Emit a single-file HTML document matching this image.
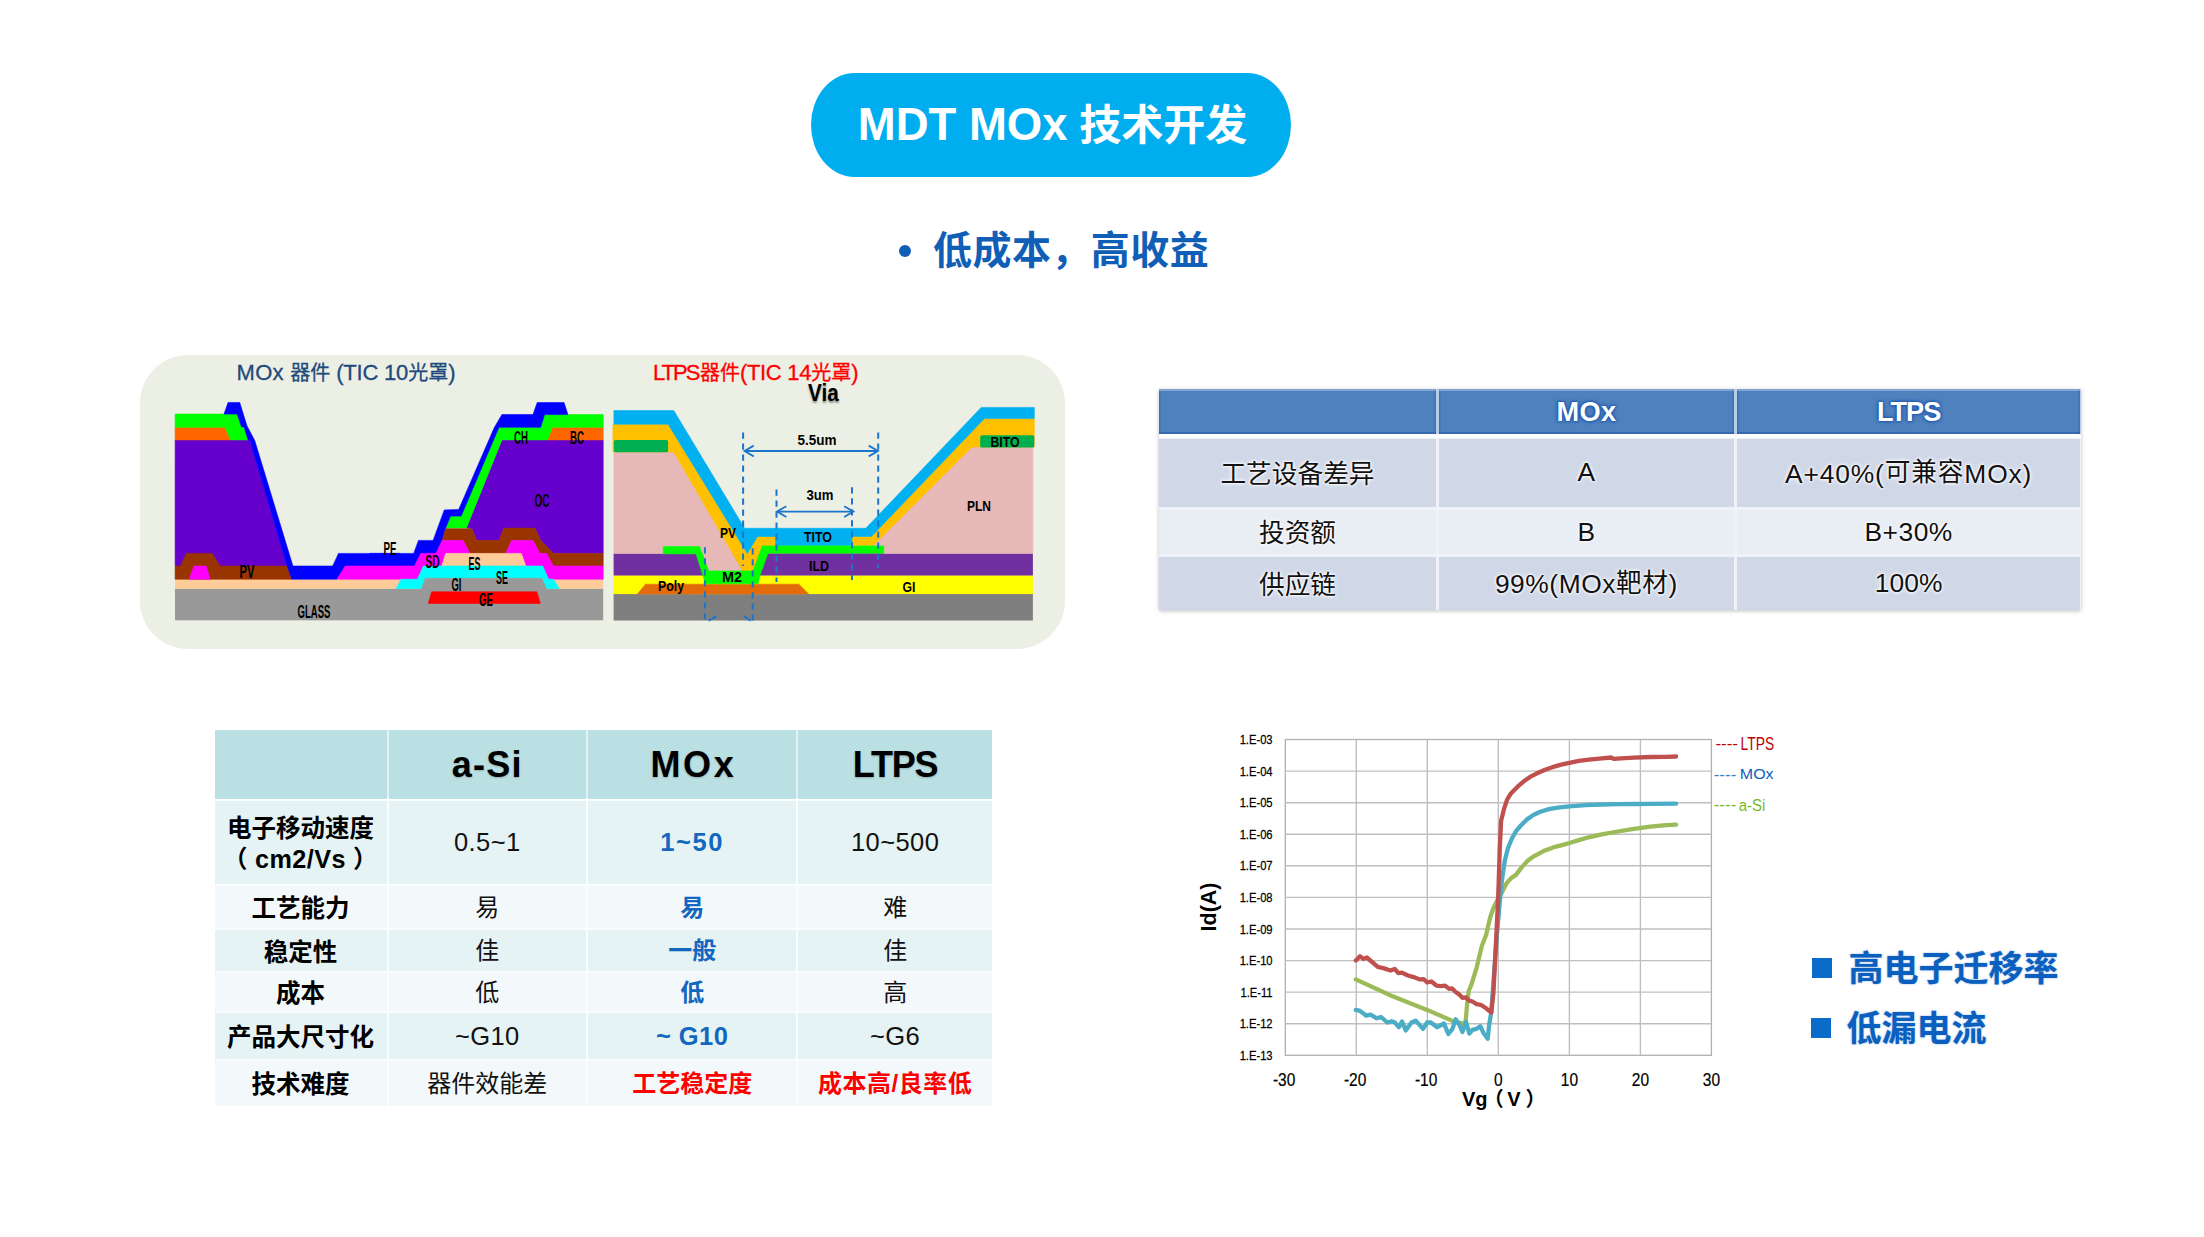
<!DOCTYPE html>
<html lang="zh-CN"><head><meta charset="utf-8"><title>MDT MOx 技术开发</title>
<style>
html,body{margin:0;padding:0;background:#fff;}
body{width:2204px;height:1237px;position:relative;overflow:hidden;font-family:"Liberation Sans","Noto Sans CJK SC",sans-serif;}
.abs{position:absolute;}
.pill{left:811px;top:72.8px;width:480px;height:103.8px;border-radius:43.5px / 51.9px;box-sizing:border-box;padding-left:3px;background:#00AEEF;color:#fff;font-weight:700;font-size:43px;line-height:104px;text-align:center;white-space:nowrap;}
.tl{font-size:45.5px;}
.tc{font-size:42px;}
.sub{letter-spacing:.45px;left:890px;top:222px;width:330px;height:58px;line-height:58px;font-size:39px;font-weight:700;color:#115EB6;white-space:nowrap;}
.panel{left:140px;top:355px;width:925px;height:294px;border-radius:48px;background:#ECEFE3;}
.dl{font-size:22px;white-space:nowrap;line-height:24px;-webkit-text-stroke:.3px currentColor;}
.dl i{font-style:normal;font-size:20px;}
.c{position:absolute;display:flex;align-items:center;justify-content:center;text-align:center;white-space:nowrap;box-sizing:border-box;}
.t1{font-size:26.4px;color:#111;text-shadow:0 0 2px #fff,0 0 3px #fff,0 0 4px #fff;}
.t1h{font-size:27.2px;font-weight:700;color:#fff;text-shadow:0 0 2px #1B55AE,0 0 3px #1B55AE,0 0 4px #1B55AE;}
.t2{font-size:24px;color:#111;}
.t2k{font-size:24.5px;font-weight:700;color:#000;line-height:30px;padding-top:4.4px;}
.t2h{font-size:36px;font-weight:700;color:#000;text-shadow:0 1px 2px rgba(0,0,0,.22);}
.la{font-size:25.5px;letter-spacing:.4px;}
.u2{position:relative;top:-1.5px;}
.up{position:relative;top:-1.2px;font-size:25.7px;}
.t1h{box-shadow:inset 0 2px 0 rgba(255,255,255,.3),inset 0 -2px 0 rgba(25,75,160,.45),inset 1.5px 0 0 rgba(25,75,160,.3),inset -1.5px 0 0 rgba(25,75,160,.3);}
.bl{color:#1367BE;font-weight:700;}
.rd{color:#FF0000;font-weight:700;}
.bul{font-size:35px;font-weight:700;color:#0A5FBF;white-space:nowrap;line-height:40px;text-shadow:0 0 2px rgba(10,95,191,.5);}
.sq{background:#0A6CC8;width:20px;height:20px;}
</style></head><body>
<div class="abs pill"><span class="tl">MDT MOx</span><span class="tc"> 技术开发</span></div>
<div class="abs sub"><span style="position:absolute;left:9px;top:23px;width:12px;height:12px;border-radius:6px;background:#115EB6"></span><span style="position:absolute;left:43px;top:0">低成本，高收益</span></div>
<div class="abs panel"></div>
<svg class="abs" style="left:0;top:0" width="2204" height="1237" viewBox="0 0 2204 1237">
<rect x="175" y="588.5" width="428.2" height="31.8" fill="#999999"/>
<rect x="175" y="579" width="428.2" height="9.7" fill="#FFCC99"/>
<polygon points="175.1,439.9 249.8,439.9 287.1,566.0 175.1,566.0" fill="#6600CC" stroke="#6600CC" stroke-width="0.6" stroke-linejoin="round" />
<polygon points="175.1,427.3 225.0,427.3 230.8,439.9 175.1,439.9" fill="#FF6600" stroke="#FF6600" stroke-width="0.6" stroke-linejoin="round" />
<polygon points="175.1,414.1 237.2,414.1 241.5,426.9 244.0,426.9 248.1,439.9 230.8,439.9 225.0,427.3 175.1,427.3" fill="#00FF00" stroke="#00FF00" stroke-width="0.6" stroke-linejoin="round" />
<polygon points="175.1,566.0 180.4,566.0 186.2,553.4 212.4,553.4 220.1,566.0 287.1,566.0 291.9,579.2 175.1,579.2" fill="#993300" stroke="#993300" stroke-width="0.6" stroke-linejoin="round" />
<polygon points="189.1,579.2 194.0,566.0 206.2,566.0 210.1,579.2" fill="#FF00FF" stroke="#FF00FF" stroke-width="0.6" stroke-linejoin="round" />
<polygon points="224.0,414.1 228.1,402.4 239.7,402.4 246.9,425.7 254.7,440.4 292.9,566.0 332.7,566.0 338.5,553.4 400.0,553.4 400.0,566.0 345.3,566.0 336.9,579.2 291.9,579.2 287.1,566.0 249.8,439.9 248.1,439.9 244.0,426.9 241.5,426.9 237.2,414.1" fill="#0000FF" stroke="#0000FF" stroke-width="0.6" stroke-linejoin="round" />
<polygon points="501.9,439.9 603.2,439.9 603.2,553.4 553.4,553.4 540.7,540.4 534.9,528.1 503.9,528.1 499.0,540.4 476.7,540.4 471.9,528.7 466.4,527.8" fill="#6600CC" stroke="#6600CC" stroke-width="0.6" stroke-linejoin="round" />
<polygon points="552.4,427.3 603.2,427.3 603.2,439.9 547.5,439.9" fill="#FF6600" stroke="#FF6600" stroke-width="0.6" stroke-linejoin="round" />
<polygon points="445.7,528.1 450.5,516.1 461.2,516.1 499.0,427.3 540.7,427.3 544.6,414.6 603.2,414.6 603.2,427.3 552.4,427.3 547.5,439.9 501.9,439.9 466.4,528.1" fill="#00FF00" stroke="#00FF00" stroke-width="0.6" stroke-linejoin="round" />
<polygon points="370.0,553.4 413.7,553.4 418.5,540.4 433.1,540.4 444.3,509.9 458.7,509.5 494.2,427.8 501.9,414.6 533.0,414.6 537.2,402.6 564.0,402.6 567.9,414.6 544.6,414.6 540.7,427.3 499.0,427.3 461.2,516.1 450.5,516.1 445.7,528.1 442.2,540.4 436.0,553.4 420.8,553.4 414.6,566.0 370.0,566.0" fill="#0000FF" stroke="#0000FF" stroke-width="0.6" stroke-linejoin="round" />
<polygon points="445.7,528.7 471.9,528.7 476.7,540.4 499.0,540.4 503.9,528.1 534.9,528.1 540.7,540.4 553.4,553.4 603.2,553.4 603.2,566.0 553.4,566.0 546.6,553.4 539.8,553.4 533.0,540.4 511.6,540.4 505.8,553.4 469.9,553.4 463.1,540.4 442.2,540.4" fill="#993300" stroke="#993300" stroke-width="0.6" stroke-linejoin="round" />
<polygon points="345.4,566.0 414.6,566.0 420.8,553.4 436.0,553.4 442.2,540.4 463.1,540.4 469.9,553.4 445.7,553.4 441.8,566.0 423.4,566.0 417.5,579.2 337.0,579.2" fill="#FF00FF" stroke="#FF00FF" stroke-width="0.6" stroke-linejoin="round" />
<polygon points="505.8,553.4 511.6,540.4 533.0,540.4 539.8,553.4 546.6,553.4 553.4,566.0 603.2,566.0 603.2,579.2 548.5,579.2 542.7,566.0 525.8,566.0 521.3,553.4" fill="#FF00FF" stroke="#FF00FF" stroke-width="0.6" stroke-linejoin="round" />
<polygon points="445.7,553.4 521.3,553.4 525.8,566.0 441.8,566.0" fill="#FFCC99" stroke="#FFCC99" stroke-width="0.6" stroke-linejoin="round" />
<polygon points="542.7,566.0 548.5,579.2 553.4,579.2 559.2,588.5 546.6,588.5 541.7,578.2 425.3,578.2 421.4,588.5 396.2,588.5 401.0,579.2 417.5,579.2 423.4,566.0" fill="#00FFFF" stroke="#00FFFF" stroke-width="0.6" stroke-linejoin="round" />
<polygon points="421.4,588.5 425.3,578.2 541.7,578.2 546.6,588.5 546.6,590.8 421.4,590.8" fill="#999999" stroke="#999999" stroke-width="0.6" stroke-linejoin="round" />
<polygon points="431.7,591.8 536.9,591.8 540.4,603.4 428.2,603.4" fill="#FF0000" stroke="#FF0000" stroke-width="0.6" stroke-linejoin="round" />
<rect x="613.6" y="593.9" width="419.3" height="26.6" fill="#7F7F7F"/>
<rect x="613.6" y="575.3" width="419.3" height="18.8" fill="#FFFF00"/>
<rect x="613.6" y="553.3" width="419.3" height="22.2" fill="#7030A0"/>
<polygon points="645.6,584.2 798.9,584.2 808.6,594.0 637.4,594.0" fill="#E36C0A" stroke="#E36C0A" stroke-width="0.6" stroke-linejoin="round" />
<polygon points="613.9,452.0 673.8,452.0 742.8,570.9 708.6,570.9 699.7,546.6 663.2,546.6 663.2,553.4 613.9,553.4" fill="#E6B9B8" stroke="#E6B9B8" stroke-width="0.6" stroke-linejoin="round" />
<polygon points="971.8,447.0 1032.9,447.0 1032.9,553.4 883.8,553.4 883.8,545.6 873.2,545.6" fill="#E6B9B8" stroke="#E6B9B8" stroke-width="0.6" stroke-linejoin="round" />
<polygon points="612.9,424.2 668.1,424.2 747.3,553.6 757.5,536.5 775.6,536.5 775.6,545.9 762.2,545.9 753.3,570.9 742.8,570.9 673.8,452.0 612.9,452.0" fill="#FFC000" stroke="#FFC000" stroke-width="0.6" stroke-linejoin="round" />
<polygon points="984.4,418.6 1034.3,418.6 1034.3,447.0 971.8,447.0 873.2,545.6 852.0,545.6 852.0,536.4 871.5,536.4" fill="#FFC000" stroke="#FFC000" stroke-width="0.6" stroke-linejoin="round" />
<polygon points="613.9,410.6 673.8,410.6 744.6,528.3 865.8,528.3 981.2,407.4 1034.3,407.4 1034.3,418.6 984.4,418.6 871.5,536.4 852.0,536.4 852.0,545.8 775.6,545.8 775.6,536.5 757.5,536.5 747.3,553.6 668.1,424.2 613.9,424.2" fill="#00B0F0" stroke="#00B0F0" stroke-width="0.6" stroke-linejoin="round" />
<polygon points="663.2,546.6 699.7,546.6 708.6,570.9 753.3,570.9 762.2,545.9 883.8,545.9 883.8,553.3 768.0,553.3 760.1,575.1 758.0,583.8 705.4,583.8 702.8,575.1 696.0,553.8 663.2,553.8" fill="#00FF00" stroke="#00FF00" stroke-width="0.6" stroke-linejoin="round" />
<rect x="613.9" y="440" width="54.2" height="12.3" rx="1.6" fill="#00B050"/>
<rect x="980.2" y="435.3" width="54.1" height="12.2" rx="1.6" fill="#00B050"/>
<line x1="743.1" y1="432.5" x2="743.1" y2="566.0" stroke="#1B75CB" stroke-width="2" stroke-dasharray="6.3 4.7"/>
<line x1="878.2" y1="432.5" x2="878.2" y2="568.0" stroke="#1B75CB" stroke-width="2" stroke-dasharray="6.3 4.7"/>
<line x1="776.5" y1="489.5" x2="776.5" y2="582.0" stroke="#1B75CB" stroke-width="2" stroke-dasharray="6.3 4.7"/>
<line x1="852.0" y1="487.3" x2="852.0" y2="580.0" stroke="#1B75CB" stroke-width="2" stroke-dasharray="6.3 4.7"/>
<line x1="704.9" y1="547.3" x2="704.9" y2="620.5" stroke="#1B75CB" stroke-width="2" stroke-dasharray="6.3 4.7"/>
<line x1="752.7" y1="548.3" x2="752.7" y2="620.5" stroke="#1B75CB" stroke-width="2" stroke-dasharray="6.3 4.7"/>
<g stroke="#1B75CB" stroke-width="1.8" fill="none" stroke-linejoin="miter"><line x1="745.5" y1="451.0" x2="877.0" y2="451.0"/><polyline points="753.8,445.6 744.5,451.0 753.8,456.4"/><polyline points="868.7,445.6 878.0,451.0 868.7,456.4"/></g>
<g stroke="#1B75CB" stroke-width="1.8" fill="none" stroke-linejoin="miter"><line x1="778.0" y1="511.6" x2="852.5" y2="511.6"/><polyline points="786.3,506.2 777.0,511.6 786.3,517.0"/><polyline points="844.2,506.2 853.5,511.6 844.2,517.0"/></g>
<g stroke="#1B75CB" stroke-width="1.8" fill="none"><polyline points="708.6,620.7 716.5,616.1"/><polyline points="743.8,616.1 750.6,620.7"/></g>
<g font-family="Liberation Sans, sans-serif"><text x="247.0" y="578.0" font-size="18.5" font-weight="700" fill="#000" text-anchor="middle" textLength="15.0" lengthAdjust="spacingAndGlyphs" >PV</text>
<text x="390.0" y="555.0" font-size="18.5" font-weight="700" fill="#000" text-anchor="middle" textLength="13.0" lengthAdjust="spacingAndGlyphs" >PE</text>
<text x="314.0" y="618.0" font-size="18.5" font-weight="700" fill="#000" text-anchor="middle" textLength="33.0" lengthAdjust="spacingAndGlyphs" >GLASS</text>
<text x="432.5" y="568.0" font-size="18.5" font-weight="700" fill="#000" text-anchor="middle" textLength="14.0" lengthAdjust="spacingAndGlyphs" >SD</text>
<text x="474.5" y="570.0" font-size="18.5" font-weight="700" fill="#000" text-anchor="middle" textLength="12.0" lengthAdjust="spacingAndGlyphs" >ES</text>
<text x="502.0" y="584.0" font-size="18.5" font-weight="700" fill="#000" text-anchor="middle" textLength="12.0" lengthAdjust="spacingAndGlyphs" >SE</text>
<text x="456.5" y="591.0" font-size="18.5" font-weight="700" fill="#000" text-anchor="middle" textLength="10.0" lengthAdjust="spacingAndGlyphs" >GI</text>
<text x="486.0" y="606.0" font-size="18.5" font-weight="700" fill="#000" text-anchor="middle" textLength="14.0" lengthAdjust="spacingAndGlyphs" >GE</text>
<text x="521.0" y="444.0" font-size="18.5" font-weight="700" fill="#000" text-anchor="middle" textLength="14.0" lengthAdjust="spacingAndGlyphs" >CH</text>
<text x="577.0" y="444.0" font-size="18.5" font-weight="700" fill="#000" text-anchor="middle" textLength="14.0" lengthAdjust="spacingAndGlyphs" >BC</text>
<text x="542.0" y="507.0" font-size="18.5" font-weight="700" fill="#000" text-anchor="middle" textLength="15.0" lengthAdjust="spacingAndGlyphs" >OC</text>
<text x="728.0" y="538.0" font-size="15" font-weight="700" fill="#000" text-anchor="middle" textLength="16.0" lengthAdjust="spacingAndGlyphs" >PV</text>
<text x="818.0" y="542.0" font-size="14" font-weight="700" fill="#000" text-anchor="middle" textLength="28.0" lengthAdjust="spacingAndGlyphs" >TITO</text>
<text x="819.0" y="570.5" font-size="14" font-weight="700" fill="#000" text-anchor="middle" textLength="20.0" lengthAdjust="spacingAndGlyphs" >ILD</text>
<text x="732.0" y="582.0" font-size="15" font-weight="700" fill="#000" text-anchor="middle" textLength="20.0" lengthAdjust="spacingAndGlyphs" >M2</text>
<text x="671.0" y="591.0" font-size="15" font-weight="700" fill="#000" text-anchor="middle" textLength="26.0" lengthAdjust="spacingAndGlyphs" >Poly</text>
<text x="909.0" y="592.0" font-size="14" font-weight="700" fill="#000" text-anchor="middle" textLength="13.0" lengthAdjust="spacingAndGlyphs" >GI</text>
<text x="979.0" y="511.0" font-size="14" font-weight="700" fill="#000" text-anchor="middle" textLength="24.0" lengthAdjust="spacingAndGlyphs" >PLN</text>
<text x="1005.0" y="447.0" font-size="14" font-weight="700" fill="#000" text-anchor="middle" textLength="29.0" lengthAdjust="spacingAndGlyphs" >BITO</text>
<text x="817.0" y="445.0" font-size="14" font-weight="700" fill="#000" text-anchor="middle" textLength="39.0" lengthAdjust="spacingAndGlyphs" >5.5um</text>
<text x="820.0" y="500.0" font-size="14" font-weight="700" fill="#000" text-anchor="middle" textLength="27.0" lengthAdjust="spacingAndGlyphs" >3um</text></g>
<rect x="1285.3" y="739.5" width="426.1" height="315.8" fill="#fff" stroke="#b0b0b0" stroke-width="1.3"/>
<line x1="1356.3" y1="739.5" x2="1356.3" y2="1055.3" stroke="#bfbfbf" stroke-width="1.4"/>
<line x1="1427.3" y1="739.5" x2="1427.3" y2="1055.3" stroke="#bfbfbf" stroke-width="1.4"/>
<line x1="1498.3" y1="739.5" x2="1498.3" y2="1055.3" stroke="#bfbfbf" stroke-width="1.4"/>
<line x1="1569.4" y1="739.5" x2="1569.4" y2="1055.3" stroke="#bfbfbf" stroke-width="1.4"/>
<line x1="1640.4" y1="739.5" x2="1640.4" y2="1055.3" stroke="#bfbfbf" stroke-width="1.4"/>
<line x1="1285.3" y1="771.1" x2="1711.4" y2="771.1" stroke="#bfbfbf" stroke-width="1.4"/>
<line x1="1285.3" y1="802.7" x2="1711.4" y2="802.7" stroke="#bfbfbf" stroke-width="1.4"/>
<line x1="1285.3" y1="834.2" x2="1711.4" y2="834.2" stroke="#bfbfbf" stroke-width="1.4"/>
<line x1="1285.3" y1="865.8" x2="1711.4" y2="865.8" stroke="#bfbfbf" stroke-width="1.4"/>
<line x1="1285.3" y1="897.4" x2="1711.4" y2="897.4" stroke="#bfbfbf" stroke-width="1.4"/>
<line x1="1285.3" y1="929.0" x2="1711.4" y2="929.0" stroke="#bfbfbf" stroke-width="1.4"/>
<line x1="1285.3" y1="960.6" x2="1711.4" y2="960.6" stroke="#bfbfbf" stroke-width="1.4"/>
<line x1="1285.3" y1="992.1" x2="1711.4" y2="992.1" stroke="#bfbfbf" stroke-width="1.4"/>
<line x1="1285.3" y1="1023.7" x2="1711.4" y2="1023.7" stroke="#bfbfbf" stroke-width="1.4"/>
<polyline points="1355.8,979.4 1392.5,996.2 1427.2,1009.9 1453.5,1021.4 1463.0,1023.7 1465.6,1021.4 1467.2,1003.6 1468.7,991.0 1471.4,984.7 1476.6,967.8 1481.9,945.8 1486.1,935.0 1490.1,917.7 1493.4,908.0 1497.4,899.9 1502.2,891.8 1506.3,883.7 1511.1,878.1 1516.0,874.9 1520.8,868.4 1527.3,861.1 1533.8,856.3 1543.5,851.1 1553.2,847.4 1562.9,844.9 1569.3,843.0 1579.0,840.1 1588.7,837.3 1601.7,834.4 1617.8,831.5 1634.0,828.8 1650.2,826.7 1666.4,825.2 1676.1,824.7" fill="none" stroke="#9BBB59" stroke-width="4.3" stroke-linejoin="round" stroke-linecap="round"/>
<polyline points="1355.8,1009.9 1360.0,1010.9 1366.3,1015.7 1370.5,1014.6 1376.8,1018.3 1381.0,1017.0 1387.3,1022.5 1391.5,1021.4 1394.7,1022.3 1398.9,1027.2 1402.0,1021.4 1405.7,1030.4 1411.5,1022.5 1415.7,1020.6 1419.3,1024.6 1423.0,1028.8 1427.2,1022.5 1430.4,1022.3 1437.2,1027.2 1444.0,1023.5 1448.3,1034.0 1452.5,1028.8 1455.6,1019.3 1459.3,1024.6 1462.4,1031.9 1466.1,1022.0 1469.3,1033.5 1472.4,1029.8 1476.6,1028.8 1480.3,1026.2 1483.5,1033.0 1487.7,1038.8 1489.2,1024.6 1491.3,1012.0 1496.9,935.0 1499.5,904.8 1501.9,880.5 1504.7,861.1 1507.9,848.2 1511.9,838.5 1516.0,831.2 1520.8,825.5 1527.3,819.1 1533.8,814.7 1540.2,811.8 1549.9,808.9 1559.6,807.3 1569.3,806.3 1585.5,805.2 1601.7,804.5 1617.8,804.2 1634.0,804.0 1650.2,803.9 1676.1,803.7" fill="none" stroke="#4BACC6" stroke-width="4.3" stroke-linejoin="round" stroke-linecap="round"/>
<polyline points="1355.8,960.5 1360.0,956.3 1363.6,958.9 1366.8,957.5 1371.5,961.5 1377.8,966.8 1384.1,968.4 1390.4,970.5 1394.7,968.9 1398.3,973.1 1402.0,972.6 1407.3,975.2 1413.6,977.1 1419.9,979.4 1423.6,979.2 1427.2,982.3 1431.4,981.5 1436.7,985.7 1440.9,986.2 1445.1,985.7 1449.3,988.9 1451.9,988.3 1455.6,992.0 1458.8,994.1 1462.4,997.8 1465.6,997.3 1469.3,1000.6 1472.4,1001.5 1476.6,1004.1 1480.8,1004.8 1486.1,1008.3 1491.3,1012.5 1493.4,993.1 1496.6,930.0 1498.2,896.7 1499.8,848.2 1501.1,820.7 1503.9,809.4 1507.1,799.7 1511.1,793.2 1517.6,786.7 1524.1,781.1 1530.5,776.7 1537.0,773.3 1545.1,769.8 1553.2,766.9 1561.3,764.6 1569.3,762.8 1579.0,760.9 1588.7,759.6 1601.7,758.3 1611.4,757.5 1613.8,758.9 1621.1,758.4 1634.0,757.6 1650.2,757.0 1666.4,756.8 1676.1,756.5" fill="none" stroke="#C0504D" stroke-width="4.3" stroke-linejoin="round" stroke-linecap="round"/>
<g font-family="Liberation Sans, sans-serif" font-size="12.8" fill="#000" stroke="#000" stroke-width=".25" text-anchor="end">
<text transform="translate(1272.6,744.1) scale(.875,1)">1.E-03</text>
<text transform="translate(1272.6,775.7) scale(.875,1)">1.E-04</text>
<text transform="translate(1272.6,807.3) scale(.875,1)">1.E-05</text>
<text transform="translate(1272.6,838.8) scale(.875,1)">1.E-06</text>
<text transform="translate(1272.6,870.4) scale(.875,1)">1.E-07</text>
<text transform="translate(1272.6,902.0) scale(.875,1)">1.E-08</text>
<text transform="translate(1272.6,933.6) scale(.875,1)">1.E-09</text>
<text transform="translate(1272.6,965.2) scale(.875,1)">1.E-10</text>
<text transform="translate(1272.6,996.7) scale(.875,1)">1.E-11</text>
<text transform="translate(1272.6,1028.3) scale(.875,1)">1.E-12</text>
<text transform="translate(1272.6,1059.9) scale(.875,1)">1.E-13</text>
</g>
<g font-family="Liberation Sans, sans-serif" font-size="17.5" fill="#000" stroke="#000" stroke-width=".2" text-anchor="middle">
<text transform="translate(1284.1,1086.2) scale(.885,1)">-30</text>
<text transform="translate(1355.1,1086.2) scale(.885,1)">-20</text>
<text transform="translate(1426.1,1086.2) scale(.885,1)">-10</text>
<text transform="translate(1498.3,1086.2) scale(.885,1)">0</text>
<text transform="translate(1569.4,1086.2) scale(.885,1)">10</text>
<text transform="translate(1640.4,1086.2) scale(.885,1)">20</text>
<text transform="translate(1711.4,1086.2) scale(.885,1)">30</text>
</g>
<text x="1462" y="1105.6" font-family="Liberation Sans, 'Noto Sans CJK SC', sans-serif" font-size="20" font-weight="700" fill="#000">Vg<tspan dx="-3.8">（</tspan><tspan dx="3.5">V</tspan><tspan dx="5">）</tspan></text>
<text transform="translate(1216,907) rotate(-90)" font-family="Liberation Sans, sans-serif" font-size="21.5" font-weight="700" text-anchor="middle" fill="#000">Id(A)</text>
<g font-family="Liberation Sans, sans-serif" lengthAdjust="spacingAndGlyphs">
<text x="1715.4" y="749.2" font-size="16.4" textLength="22.6" lengthAdjust="spacingAndGlyphs" fill="#C00000">----</text>
<text x="1740.6" y="750.1" font-size="18" textLength="33.6" lengthAdjust="spacingAndGlyphs" fill="#C00000">LTPS</text>
<text x="1713.7" y="780.3" font-size="16.4" textLength="22.6" lengthAdjust="spacingAndGlyphs" fill="#3F7FC8">----</text>
<text x="1739.8" y="779.3" font-size="14.7" textLength="33.8" lengthAdjust="spacingAndGlyphs" fill="#0B5FBF">MOx</text>
<text x="1713.7" y="810.3" font-size="16.4" textLength="22.6" lengthAdjust="spacingAndGlyphs" fill="#76B82A">----</text>
<text x="1738.8" y="810.7" font-size="16.3" textLength="26.6" lengthAdjust="spacingAndGlyphs" fill="#76B82A">a-Si</text>
</g>
</svg>
<div class="abs dl" style="left:236.5px;top:361px;color:#1F497D"><span style="letter-spacing:.3px">MOx </span><i>器件</i><span style="letter-spacing:-.2px"> (TIC 10</span><i>光罩</i>)</div>
<div class="abs dl" style="left:653px;top:361px;color:#FF0000"><span style="letter-spacing:-2px">LTPS</span><i style="margin-left:1.5px">器件</i><span style="letter-spacing:-.3px">(TIC 14</span><i>光罩</i>)</div>
<div class="abs" style="left:807.5px;top:379px;font-size:23px;font-weight:700;color:#000;line-height:28px;text-shadow:0 2px 2px rgba(0,0,0,.4);transform:scaleX(.9);transform-origin:left">Via</div>
<div class="abs" style="left:1159px;top:389.2px;width:921.5px;height:220.6px;box-shadow:0 1px 4px rgba(0,0,0,.25);background:linear-gradient(#B9CDEA 0,#B9CDEA 45px,#fff 45px,#fff 49.3px,#F0F2F9 49.3px)"></div>
<div class="c t1h" style="left:1159.0px;top:389.2px;width:277.0px;height:45.1px;background:#4F81BD"><div></div></div>
<div class="c t1h" style="left:1439.0px;top:389.2px;width:294.8px;height:45.1px;background:#4F81BD"><div><span style="letter-spacing:.3px">MOx</span></div></div>
<div class="c t1h" style="left:1736.8px;top:389.2px;width:343.7px;height:45.1px;background:#4F81BD"><div><span style="letter-spacing:-1px">LTPS</span></div></div>
<div class="c t1" style="left:1159.0px;top:438.5px;width:277.0px;height:68.3px;background:#D0D8E8"><div><span class="up">工艺设备差异</span></div></div>
<div class="c t1" style="left:1439.0px;top:438.5px;width:294.8px;height:68.3px;background:#D0D8E8"><div>A</div></div>
<div class="c t1" style="left:1736.8px;top:438.5px;width:343.7px;height:68.3px;background:#D0D8E8"><div><span style="letter-spacing:.85px;position:relative;top:-1.6px">A+40%(<span class="up">可兼容</span>MOx)</span></div></div>
<div class="c t1" style="left:1159.0px;top:510.4px;width:277.0px;height:43.3px;background:#E9EDF4"><div><span class="up">投资额</span></div></div>
<div class="c t1" style="left:1439.0px;top:510.4px;width:294.8px;height:43.3px;background:#E9EDF4"><div>B</div></div>
<div class="c t1" style="left:1736.8px;top:510.4px;width:343.7px;height:43.3px;background:#E9EDF4"><div><span style="letter-spacing:.5px">B+30%</span></div></div>
<div class="c t1" style="left:1159.0px;top:557.2px;width:277.0px;height:52.6px;background:#D0D8E8"><div><span class="up">供应链</span></div></div>
<div class="c t1" style="left:1439.0px;top:557.2px;width:294.8px;height:52.6px;background:#D0D8E8"><div><span style="letter-spacing:.55px;position:relative;top:-1.8px">99%(MOx<span class="up">靶材</span>)</span></div></div>
<div class="c t1" style="left:1736.8px;top:557.2px;width:343.7px;height:52.6px;background:#D0D8E8"><div><span style="letter-spacing:.1px">100%</span></div></div>
<div class="abs" style="left:214.5px;top:730.4px;width:777.5px;height:375.1px;background:linear-gradient(#E3F1F3 0,#E3F1F3 68.4px,#fff 68.4px,#fff 70.4px,#FAFDFD 70.4px)"></div>
<div class="c t2h" style="left:214.5px;top:730.4px;width:172.0px;height:68.4px;background:#BAE0E3"><div></div></div>
<div class="c t2h" style="left:388.5px;top:730.4px;width:197.5px;height:68.4px;background:#BAE0E3"><div><span style="letter-spacing:1.3px">a-Si</span></div></div>
<div class="c t2h" style="left:588.0px;top:730.4px;width:208.3px;height:68.4px;background:#BAE0E3"><div><span style="letter-spacing:2.6px;margin-right:-2.6px">MOx</span></div></div>
<div class="c t2h" style="left:798.3px;top:730.4px;width:193.7px;height:68.4px;background:#BAE0E3"><div><span style="letter-spacing:-1.2px">LTPS</span></div></div>
<div class="c t2k" style="left:214.5px;top:800.8px;width:172.0px;height:83.2px;background:#E6F3F4"><div>电子移动速度<br><span style="letter-spacing:.5px"><span style="margin-right:7px;margin-left:-14px">（</span><span style="font-size:25.2px">cm2/Vs</span><span style="margin-left:7px;margin-right:-14px">）</span></span></div></div>
<div class="c t2" style="left:388.5px;top:800.8px;width:197.5px;height:83.2px;background:#E6F3F4"><div><span class="la">0.5~1</span></div></div>
<div class="c t2" style="left:588.0px;top:800.8px;width:208.3px;height:83.2px;background:#E6F3F4"><div><b class="bl la" style="letter-spacing:1.6px">1~50</b></div></div>
<div class="c t2" style="left:798.3px;top:800.8px;width:193.7px;height:83.2px;background:#E6F3F4"><div><span class="la">10~500</span></div></div>
<div class="c t2k" style="left:214.5px;top:886.0px;width:172.0px;height:41.7px;background:#F3F9FB"><div>工艺能力</div></div>
<div class="c t2" style="left:388.5px;top:886.0px;width:197.5px;height:41.7px;background:#F3F9FB"><div><span class="u2">易</span></div></div>
<div class="c t2" style="left:588.0px;top:886.0px;width:208.3px;height:41.7px;background:#F3F9FB"><div><b class="bl u2">易</b></div></div>
<div class="c t2" style="left:798.3px;top:886.0px;width:193.7px;height:41.7px;background:#F3F9FB"><div><span class="u2">难</span></div></div>
<div class="c t2k" style="left:214.5px;top:929.7px;width:172.0px;height:41.3px;background:#E6F3F4"><div>稳定性</div></div>
<div class="c t2" style="left:388.5px;top:929.7px;width:197.5px;height:41.3px;background:#E6F3F4"><div><span class="u2">佳</span></div></div>
<div class="c t2" style="left:588.0px;top:929.7px;width:208.3px;height:41.3px;background:#E6F3F4"><div><b class="bl u2">一般</b></div></div>
<div class="c t2" style="left:798.3px;top:929.7px;width:193.7px;height:41.3px;background:#E6F3F4"><div><span class="u2">佳</span></div></div>
<div class="c t2k" style="left:214.5px;top:973.0px;width:172.0px;height:38.0px;background:#F3F9FB"><div>成本</div></div>
<div class="c t2" style="left:388.5px;top:973.0px;width:197.5px;height:38.0px;background:#F3F9FB"><div><span class="u2">低</span></div></div>
<div class="c t2" style="left:588.0px;top:973.0px;width:208.3px;height:38.0px;background:#F3F9FB"><div><b class="bl u2">低</b></div></div>
<div class="c t2" style="left:798.3px;top:973.0px;width:193.7px;height:38.0px;background:#F3F9FB"><div><span class="u2">高</span></div></div>
<div class="c t2k" style="left:214.5px;top:1013.0px;width:172.0px;height:46.0px;background:#E6F3F4"><div>产品大尺寸化</div></div>
<div class="c t2" style="left:388.5px;top:1013.0px;width:197.5px;height:46.0px;background:#E6F3F4"><div><span class="la">~G10</span></div></div>
<div class="c t2" style="left:588.0px;top:1013.0px;width:208.3px;height:46.0px;background:#E6F3F4"><div><b class="bl la">~ G10</b></div></div>
<div class="c t2" style="left:798.3px;top:1013.0px;width:193.7px;height:46.0px;background:#E6F3F4"><div><span class="la">~G6</span></div></div>
<div class="c t2k" style="left:214.5px;top:1061.0px;width:172.0px;height:44.5px;background:#F3F9FB"><div>技术难度</div></div>
<div class="c t2" style="left:388.5px;top:1061.0px;width:197.5px;height:44.5px;background:#F3F9FB"><div><span class="u2">器件效能差</span></div></div>
<div class="c t2" style="left:588.0px;top:1061.0px;width:208.3px;height:44.5px;background:#F3F9FB"><div><b class="rd u2">工艺稳定度</b></div></div>
<div class="c t2" style="left:798.3px;top:1061.0px;width:193.7px;height:44.5px;background:#F3F9FB"><div><b class="rd u2" style="letter-spacing:.5px">成本高/良率低</b></div></div>
<div class="abs sq" style="left:1812px;top:958px"></div>
<div class="abs bul" style="left:1848.5px;top:948.5px">高电子迁移率</div>
<div class="abs sq" style="left:1811px;top:1018px"></div>
<div class="abs bul" style="left:1846.5px;top:1008.5px">低漏电流</div>
</body></html>
